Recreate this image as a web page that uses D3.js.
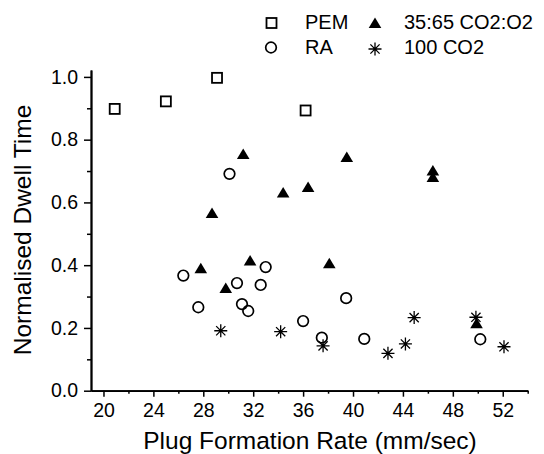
<!DOCTYPE html>
<html><head><meta charset="utf-8">
<script src="https://cdn.jsdelivr.net/npm/d3@7"></script>
<style>
html,body{margin:0;padding:0;background:#fff;}
text{font-family:"Liberation Sans",Arial,sans-serif;fill:#000;}
</style></head>
<body>
<svg id="c" width="544" height="454"></svg>
<script>
// Data (x = plug formation rate mm/sec, y = normalised dwell time)
const pemX = [20.9, 25.0, 29.1, 36.2];
const pemY = [0.898, 0.922, 0.997, 0.893];
const raX = [26.4, 27.6, 30.1, 30.7, 31.1, 31.6, 32.6, 33.0, 36.0, 37.5, 39.45, 40.9, 50.2];
const raY = [0.367, 0.266, 0.691, 0.343, 0.276, 0.254, 0.337, 0.394, 0.222, 0.169, 0.295, 0.165, 0.164];
const mixX = [27.8, 28.7, 29.8, 31.2, 31.75, 34.4, 36.4, 38.1, 39.5, 46.4, 46.4, 49.9];
const mixY = [0.390, 0.566, 0.327, 0.754, 0.415, 0.632, 0.649, 0.406, 0.745, 0.702, 0.681, 0.215];
const co2X = [29.4, 34.2, 37.6, 42.8, 44.2, 44.9, 49.85, 52.1];
const co2Y = [0.191, 0.188, 0.143, 0.119, 0.149, 0.233, 0.234, 0.140];
const xMajor = [20, 24, 28, 32, 36, 40, 44, 48, 52];
const xMinor = [22, 26, 30, 34, 38, 42, 46, 50, 54];
const yMajor = [0.0, 0.2, 0.4, 0.6, 0.8, 1.0];
const yMinor = [0.1, 0.3, 0.5, 0.7, 0.9];
const xTitle = "Plug Formation Rate (mm/sec)";
const yTitle = "Normalised Dwell Time";
const legendLabels = ["PEM", "RA", "35:65 CO2:O2", "100 CO2"];

const svg = d3.select("#c");
const x = d3.scaleLinear().domain([19, 54]).range([91, 527.7]);
const y = d3.scaleLinear().domain([0, 1.022]).range([390.7, 70]);

// Axes
const xAxisMajor = d3.axisBottom(x).tickValues(xMajor).tickSize(6).tickPadding(6).tickSizeOuter(0).tickFormat(d3.format("d"));
const xAxisMinor = d3.axisBottom(x).tickValues(xMinor).tickSize(3).tickSizeOuter(0).tickFormat("");
const yAxisMajor = d3.axisLeft(y).tickValues(yMajor).tickSize(7).tickPadding(6).tickSizeOuter(0).tickFormat(d3.format(".1f"));
const yAxisMinor = d3.axisLeft(y).tickValues(yMinor).tickSize(4).tickSizeOuter(0).tickFormat("");

function styleAxis(g){
  g.select(".domain").attr("stroke","#000").attr("stroke-width",1.8);
  g.selectAll(".tick line").attr("stroke","#000").attr("stroke-width",1.5);
  g.selectAll(".tick text").style("font-family","'Liberation Sans',Arial,sans-serif").style("font-size","19.5px").attr("fill","#000");
}
svg.append("g").attr("transform",`translate(0,${y(0)})`).call(xAxisMinor).call(styleAxis);
svg.append("g").attr("transform",`translate(0,${y(0)})`).call(xAxisMajor).call(styleAxis);
svg.append("g").attr("transform",`translate(${x(19)},0)`).call(yAxisMinor).call(styleAxis);
svg.append("g").attr("transform",`translate(${x(19)},0)`).call(yAxisMajor).call(styleAxis);

// Titles
svg.append("text").attr("x", 310).attr("y", 449).attr("text-anchor","middle")
  .style("font-size","24.5px").text(xTitle);
svg.append("text").attr("transform","translate(31,230) rotate(-90)").attr("text-anchor","middle")
  .style("font-size","24.5px").text(yTitle);

// Marker drawers
const triPath = "M0,-5.5L6.3,5L-6.3,5Z";
function drawSquare(g, cx, cy){
  g.append("rect").attr("x",cx-5).attr("y",cy-5).attr("width",10).attr("height",10)
    .attr("fill","none").attr("stroke","#000").attr("stroke-width",1.8);
}
function drawCircle(g, cx, cy){
  g.append("circle").attr("cx",cx).attr("cy",cy).attr("r",5.3)
    .attr("fill","none").attr("stroke","#000").attr("stroke-width",1.7);
}
function drawTri(g, cx, cy){
  g.append("path").attr("d",triPath).attr("transform",`translate(${cx},${cy})`).attr("fill","#000");
}
function drawStar(g, cx, cy){
  const r = 6.5, d = 4.6;
  const p = `M${-r},0L${r},0M0,${-r}L0,${r}M${-d},${-d}L${d},${d}M${-d},${d}L${d},${-d}`;
  g.append("path").attr("d",p).attr("transform",`translate(${cx},${cy})`)
    .attr("fill","none").attr("stroke","#000").attr("stroke-width",1.3);
}

const pts = svg.append("g");
co2X.forEach((v,i)=>drawStar(pts, x(v), y(co2Y[i])));
raX.forEach((v,i)=>drawCircle(pts, x(v), y(raY[i])));
mixX.forEach((v,i)=>drawTri(pts, x(v), y(mixY[i])));
pemX.forEach((v,i)=>drawSquare(pts, x(v), y(pemY[i])));

// Legend
const lg = svg.append("g");
drawSquare(lg, 271.5, 23);
drawCircle(lg, 271, 47.5);
drawTri(lg, 375, 23);
drawStar(lg, 375, 49);
lg.append("text").attr("x",305).attr("y",28.5).style("font-size","20px").text(legendLabels[0]);
lg.append("text").attr("x",305).attr("y",53.5).style("font-size","20px").text(legendLabels[1]);
lg.append("text").attr("x",404).attr("y",28.5).style("font-size","20px").text(legendLabels[2]);
lg.append("text").attr("x",404).attr("y",53.5).style("font-size","20px").text(legendLabels[3]);
</script>
</body></html>
